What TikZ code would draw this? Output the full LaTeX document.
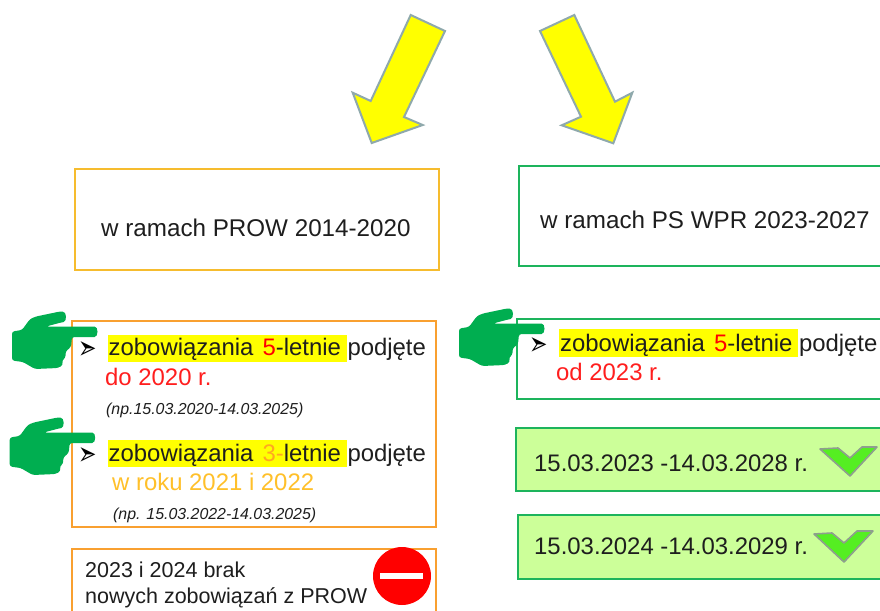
\documentclass[tikz,border=0pt]{standalone}
\usepackage{fontspec}
\setmainfont{Liberation Sans}
\newfontfamily\bulletfont{DejaVu Sans}
\definecolor{inkdark}{HTML}{1E1E1E}
\definecolor{amberline}{HTML}{F6BC2E}
\definecolor{orangeline}{HTML}{F9A030}
\definecolor{greenline}{HTML}{1DB45C}
\definecolor{handgreen}{HTML}{00AE50}
\definecolor{palegreen}{HTML}{CCFF99}
\definecolor{arrowline}{HTML}{8FA9AC}
\definecolor{chevgreen}{HTML}{55EE22}
\definecolor{chevline}{HTML}{8E9E8E}
\definecolor{goldtext}{HTML}{FFC02A}
\definecolor{orangetext}{HTML}{FFA820}
\definecolor{redtext}{HTML}{FF1E1E}
\definecolor{pureyellow}{RGB}{255,255,0}
\tikzset{
  txt/.style={inner sep=0pt,anchor=base west,text=inkdark,font=\fontsize{23.9}{28}\selectfont},
  txth/.style={inner sep=0pt,anchor=base west,text=inkdark,font=\fontsize{24.2}{28}\selectfont},
  txtb/.style={inner sep=0pt,anchor=base west,text=inkdark,font=\fontsize{21.5}{26}\selectfont},
  small/.style={inner sep=0pt,anchor=base west,text=inkdark,font=\fontsize{15.9}{18}\selectfont\itshape},
  bulletmark/.style={inner sep=0pt,anchor=center,text=black,font=\bulletfont\fontsize{22}{24}\selectfont,yscale=-1.5},
  bigarrow/.style={draw=arrowline,fill=pureyellow,line width=2pt,line join=miter},
  framea/.style={draw=amberline,line width=2pt,fill=white},
  frameb/.style={draw=orangeline,line width=2pt,fill=white},
  framec/.style={draw=greenline,line width=2pt,fill=white},
  framed/.style={draw=greenline,line width=2pt,fill=palegreen},
  marker/.style={fill=pureyellow,draw=none},
  chevron/.style={draw=chevline,fill=chevgreen,line width=1.6pt,line join=round},
  handshape/.pic={
    \fill[handgreen,rounded corners=2.5pt]
      (12,331.5) -- (22,330) -- (30,319) -- (36,316.5) -- (60,311.5)
      .. controls (67,311.5) and (67,321.5) .. (61,322.5)
      -- (46,326.5) -- (92,326.5) .. controls (98.5,326.5) and (98.5,337) .. (92,337)
      -- (72,337) -- (71,347) -- (65.5,351.5) -- (65.5,358) -- (62,360) -- (63,365) -- (58,368)
      -- (35,369) -- (23,362) -- (12,360.5) -- cycle;
  }
}
\newcommand{\zob}[1]{zobowiązania\hspace{9pt}#1}
\begin{document}
\begin{tikzpicture}[x=1pt,y=-1pt]
\useasboundingbox (0,0) rectangle (880,610);
\clip (0,0) rectangle (880,610);
\fill[white] (0,0) rectangle (880,610);

% big arrows
\draw[bigarrow] (410.7,15) -- (445,31) -- (404,117) -- (422.7,125) -- (371.7,143) -- (352.7,92.7) -- (370.7,101) -- cycle;
\draw[bigarrow] (574.3,15) -- (540,31) -- (581,116.7) -- (561.7,125.3) -- (613.3,143.3) -- (632.3,92.7) -- (615,101.7) -- cycle;

% frames
\draw[framea] (74.5,168.5) rectangle (439,270);
\draw[framec] (519,165.5) rectangle (885,266);
\draw[frameb] (71.5,320.5) rectangle (436,527);
\draw[frameb] (71.5,548.5) rectangle (436,640);
\draw[framec] (516.5,318.5) rectangle (885,399);
\draw[framed] (515.5,428) rectangle (885,491);
\draw[framed] (518,515) rectangle (885,579);

% headings
\node[txth] (headleft) at (101,236) {w ramach PROW 2014-2020};
\node[txth] (headright) at (540,228) {w ramach PS WPR 2023-2027};

% highlights
\fill[marker] (108,334.5) rectangle (347,361.5);
\fill[marker] (108,440) rectangle (347,467);
\fill[marker] (559,329) rectangle (798,357);

% left text
\node[bulletmark] (bulleta) at (87.5,347) {➢};
\node[txt] (linea) at (108.5,355) {\zob{\textcolor{red}{5}}-letnie podjęte};
\node[txt,text=redtext] (lineb) at (105,385) {do 2020 r.};
\node[small] (linec) at (106,414) {(np.15.03.2020-14.03.2025)};
\node[bulletmark] (bulletb) at (87.5,453) {➢};
\node[txt] (lined) at (108.5,461) {\zob{\textcolor{orangetext}{3-}}letnie podjęte};
\node[txt,text=goldtext] (linee) at (112,490) {w roku 2021 i 2022};
\node[small] (linef) at (113,519) {(np. 15.03.2022-14.03.2025)};
\node[txtb] (lineg) at (85,577) {2023 i 2024 brak};
\node[txtb] (lineh) at (85,603) {nowych zobowiązań z PROW};

% stop sign
\fill[red] (402,576) circle (29);
\fill[white] (380,573) rectangle (423,579);

% right text
\node[bulletmark] (bulletc) at (538.5,343) {➢};
\node[txt] (linei) at (560,351) {\zob{\textcolor{red}{5}}-letnie podjęte};
\node[txt,text=redtext] (linej) at (556,380) {od 2023 r.};
\node[txt] (linek) at (534,471) {15.03.2023 -14.03.2028 r.};
\node[txt] (linel) at (534,554) {15.03.2024 -14.03.2029 r.};

% chevrons
\draw[chevron] (820,449) -- (838,448) -- (850,458) -- (862,447) -- (877,447) -- (850,476) -- cycle;
\draw[chevron] (814,534) -- (832,533) -- (844,543) -- (857,531) -- (873,531) -- (844,562) -- cycle;

% hands
\pic at (0,0) {handshape};
\pic at (-2.3,106) {handshape};
\pic at (447,-3) {handshape};
\end{tikzpicture}
\end{document}
